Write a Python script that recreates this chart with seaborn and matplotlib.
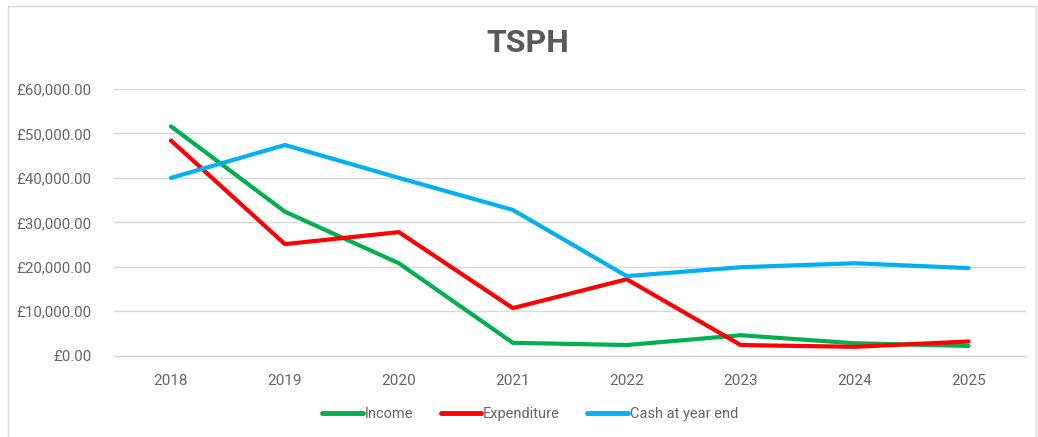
import pandas as pd
import matplotlib.pyplot as plt
import seaborn as sns
from matplotlib.patches import Rectangle
from matplotlib.ticker import FuncFormatter, FixedLocator

# values
years = [2018, 2019, 2020, 2021, 2022, 2023, 2024, 2025]
income = [51600, 32400, 20800, 2900, 2400, 4600, 2800, 2200]
expenditure = [48400, 25100, 27800, 10700, 17200, 2400, 2000, 3200]
cash = [40000, 47400, 40000, 32800, 17900, 19900, 20800, 19700]
series_names = ["Income", "Expenditure", "Cash at year end"]
series_colors = ["#00B050", "#FF0000", "#00B0F0"]

df = pd.DataFrame({
    "Year": years * 3,
    "Value": income + expenditure + cash,
    "Series": [series_names[0]] * 8 + [series_names[1]] * 8 + [series_names[2]] * 8,
})

sns.set_style("white")
plt.rcParams["font.family"] = ["Roboto", "DejaVu Sans"]

fig = plt.figure(figsize=(10.38, 4.37), dpi=100)
ax = fig.add_axes([114 / 1038, 1 - 355.7 / 437, (1025.5 - 114) / 1038, (355.7 - 89) / 437])

sns.lineplot(data=df, x="Year", y="Value", hue="Series", palette=series_colors,
             linewidth=3, ax=ax, legend=False)

ax.set_xlim(2017.5, 2025.5)
ax.set_ylim(0, 60000)
ax.set_yticks(range(0, 60001, 10000))
ax.yaxis.set_major_formatter(FuncFormatter(lambda v, p: f"£{v:,.2f}"))
ax.set_xticks(years)
ax.xaxis.set_minor_locator(FixedLocator([y + 0.5 for y in [2017] + years]))
ax.tick_params(axis="x", which="major", length=0, pad=13, labelsize=11, labelcolor="#666666")
ax.tick_params(axis="x", which="minor", length=6, width=1, color="#D9D9D9", direction="out")
ax.tick_params(axis="y", length=0, pad=16, labelsize=10.8, labelcolor="#666666")
ax.grid(axis="y", color="#D9D9D9", linewidth=1)
ax.set_axisbelow(True)
for side in ["top", "right", "left"]:
    ax.spines[side].set_visible(False)
ax.spines["bottom"].set_color("#D9D9D9")
ax.spines["bottom"].set_linewidth(1)
ax.set_xlabel("")
ax.set_ylabel("")

fig.text(528 / 1038, 1 - 43 / 437, "TSPH", ha="center", va="center",
         fontsize=23, fontweight="bold", color="#595959")

handles = [plt.Line2D([0], [0], color=c, linewidth=3.5, solid_capstyle="round") for c in series_colors]
fig.legend(handles, series_names, loc="center", bbox_to_anchor=(530 / 1038, 1 - 414 / 437),
           ncol=3, frameon=False, fontsize=10.5, labelcolor="#666666",
           handlelength=2.8, handletextpad=0.1, columnspacing=1.9)

# outer chart frame
fig.patches.append(Rectangle((8 / 1038, -0.01), 1028 / 1038, 1 - 6 / 437 + 0.01,
                             transform=fig.transFigure, fill=False,
                             edgecolor="#D9D9D9", linewidth=1))

fig.savefig("out.png", dpi=100)
